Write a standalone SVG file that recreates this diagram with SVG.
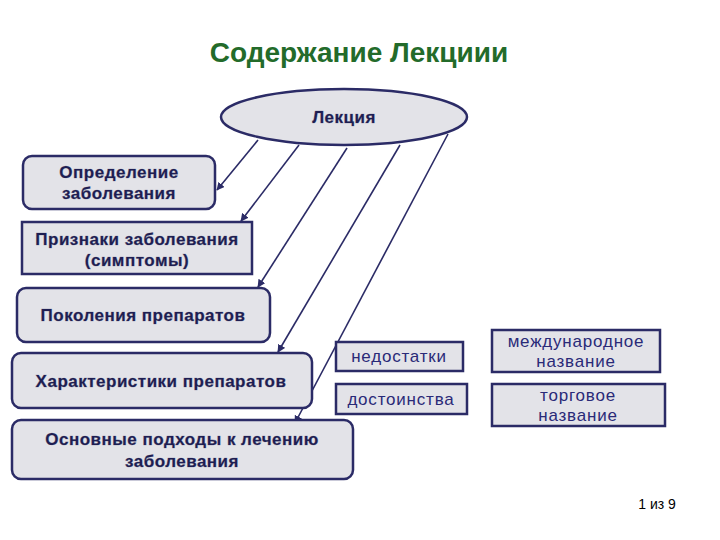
<svg xmlns="http://www.w3.org/2000/svg" width="720" height="540" viewBox="0 0 720 540">
<defs>
<style>
.box{fill:#e3e3e8;stroke:#2b2b66;stroke-width:2.5}
.lbl{font-family:"Liberation Sans",Arial,sans-serif;font-weight:bold;font-size:17px;letter-spacing:0.5px;fill:#1e1e52;text-anchor:middle;stroke:#9a9ab0;stroke-width:0.6;paint-order:stroke}
.sm{font-family:"Liberation Sans",Arial,sans-serif;font-size:17px;fill:#2a2a78;text-anchor:middle;letter-spacing:0.8px}
.con{stroke:#2b2b66;stroke-width:1.6;fill:none;marker-end:url(#ah)}
</style>
<marker id="ah" viewBox="0 0 10 10" refX="9" refY="5" markerWidth="5" markerHeight="5" orient="auto">
<path d="M0,0 L10,5 L0,10 z" fill="#2b2b66"/>
</marker>
</defs>
<rect width="720" height="540" fill="#ffffff"/>
<text x="359" y="62" font-family="Liberation Sans,Arial,sans-serif" font-weight="bold" font-size="28" fill="#236b2a" text-anchor="middle">Содержание Лекциии</text>

<g id="connectors">
<line class="con" x1="258" y1="140" x2="217" y2="190"/>
<line class="con" x1="299" y1="145" x2="241" y2="221"/>
<line class="con" x1="347" y1="148" x2="258" y2="287"/>
<line class="con" x1="400" y1="145" x2="278" y2="352"/>
<line class="con" x1="448" y1="134" x2="295" y2="423"/>
</g>

<g id="lecture">
<ellipse cx="344" cy="117" rx="123" ry="28" class="box"/>
<text x="344" y="123" class="lbl">Лекция</text>
</g>
<g id="def">
<rect x="23" y="156" width="192" height="53" rx="9" class="box"/>
<text x="119" y="178" class="lbl">Определение</text>
<text x="119" y="199" class="lbl">заболевания</text>
</g>
<g id="symptoms">
<rect x="22" y="222" width="230" height="52" class="box"/>
<text x="137" y="245" class="lbl">Признаки заболевания</text>
<text x="137" y="266" class="lbl">(симптомы)</text>
</g>
<g id="generations">
<rect x="17" y="288" width="253" height="54" rx="9" class="box"/>
<text x="143" y="321" class="lbl">Поколения препаратов</text>
</g>
<g id="characteristics">
<rect x="12" y="353" width="300" height="55" rx="9" class="box"/>
<text x="161" y="387" class="lbl">Характеристики препаратов</text>
</g>
<g id="approaches">
<rect x="12" y="420" width="341" height="59" rx="9" class="box"/>
<text x="182" y="445" class="lbl">Основные подходы к лечению</text>
<text x="182" y="467" class="lbl">заболевания</text>
</g>
<g id="disadvantages">
<rect x="336" y="342" width="127" height="29" class="box"/>
<text x="399" y="362" class="sm">недостатки</text>
</g>
<g id="advantages">
<rect x="336" y="384" width="131" height="30" class="box"/>
<text x="401" y="405" class="sm">достоинства</text>
</g>
<g id="intname">
<rect x="492" y="330" width="168" height="42" class="box"/>
<text x="576" y="347" class="sm">международное</text>
<text x="576" y="367" class="sm">название</text>
</g>
<g id="tradename">
<rect x="492" y="384" width="173" height="42" class="box"/>
<text x="578" y="401" class="sm">торговое</text>
<text x="578" y="421" class="sm">название</text>
</g>
<text x="657" y="509" font-family="Liberation Sans,Arial,sans-serif" font-size="14" fill="#000" text-anchor="middle">1 из 9</text>
</svg>
